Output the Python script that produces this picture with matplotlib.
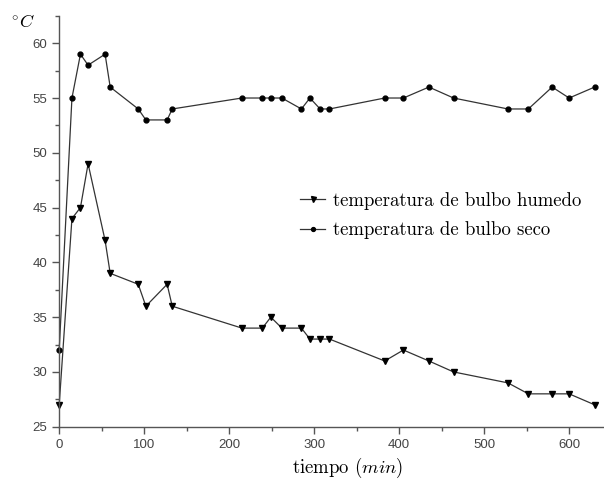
import matplotlib
matplotlib.use('Agg')
import matplotlib.pyplot as plt
from matplotlib.ticker import MultipleLocator

# tiempo (min)
tiempo = [0, 15, 25, 34, 54, 60, 93, 102, 127, 133, 215, 239, 249, 262, 285,
          295, 307, 318, 383, 405, 435, 464, 528, 552, 580, 600, 630]

# temperatura de bulbo humedo
humedo = [27, 44, 45, 49, 42, 39, 38, 36, 38, 36, 34, 34, 35, 34, 34,
          33, 33, 33, 31, 32, 31, 30, 29, 28, 28, 28, 27]

# temperatura de bulbo seco
seco = [32, 55, 59, 58, 59, 56, 54, 53, 53, 54, 55, 55, 55, 55, 54,
        55, 54, 54, 55, 55, 56, 55, 54, 54, 56, 55, 56]

plt.rcParams['mathtext.fontset'] = 'cm'

axis_gray = '#555555'
line_gray = '#333333'

fig = plt.figure(figsize=(6.04, 4.8), dpi=100)
ax = fig.add_axes([0.098, 0.111, 0.902, 0.856])

ax.plot(tiempo, humedo, '-', color=line_gray, lw=0.9, marker='v', ms=4.5,
        mfc='black', mec='black', label='temperatura de bulbo humedo', clip_on=False)
ax.plot(tiempo, seco, '-', color=line_gray, lw=0.9, marker='o', ms=3.5,
        mfc='black', mec='black', label='temperatura de bulbo seco', clip_on=False)

ax.set_xlim(0, 641)
ax.set_ylim(25, 62.5)

ax.xaxis.set_major_locator(MultipleLocator(100))
ax.xaxis.set_minor_locator(MultipleLocator(50))
ax.yaxis.set_major_locator(MultipleLocator(5))
ax.yaxis.set_minor_locator(MultipleLocator(2.5))

ax.spines['top'].set_visible(False)
ax.spines['right'].set_visible(False)
for s in ['left', 'bottom']:
    ax.spines[s].set_color(axis_gray)
    ax.spines[s].set_linewidth(1.0)

ax.tick_params(which='major', direction='out', length=5, width=1.0,
               color=axis_gray, labelcolor='#444444', labelsize=9.5)
ax.tick_params(which='minor', direction='out', length=3, width=1.0, color=axis_gray)
for lab in ax.get_xticklabels() + ax.get_yticklabels():
    lab.set_family('Liberation Sans')

ax.set_xlabel(r'tiempo ($min$)', family='cmr10', fontsize=13.5)
ax.xaxis.set_label_coords(0.53, -0.072)
fig.text(0.018, 0.955, r'$^{\circ}C$', fontsize=13, ha='left', va='center')

leg = ax.legend(loc='center left', bbox_to_anchor=(0.442, 0.514), frameon=False,
                prop={'family': 'cmr10', 'size': 13.5}, handlelength=1.35,
                handletextpad=0.4, labelspacing=0.6, borderaxespad=0,
                borderpad=0, markerscale=0.8)

fig.savefig('out.png', dpi=100)
